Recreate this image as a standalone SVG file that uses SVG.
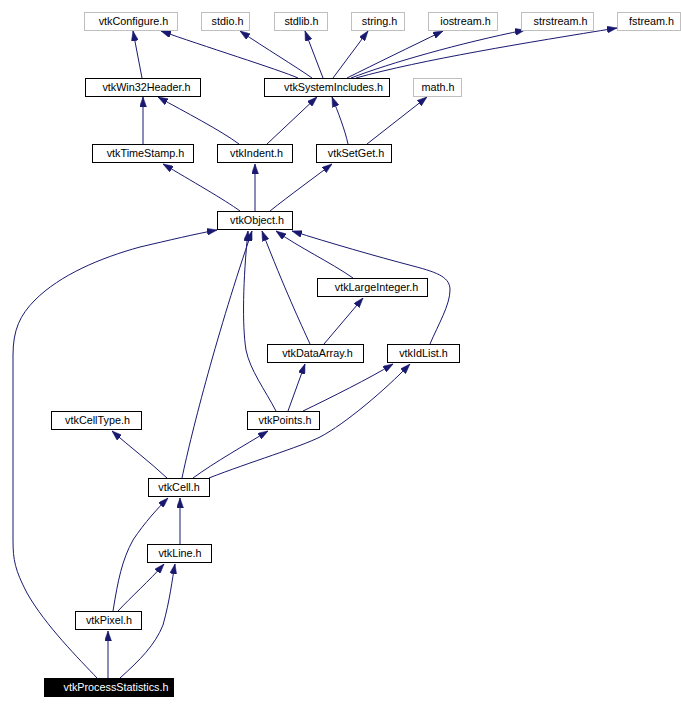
<svg xmlns="http://www.w3.org/2000/svg" width="681" height="709" viewBox="0 0 681 709">
<style>
.n rect{fill:#fff;stroke:#000;stroke-width:1}
.g rect{fill:#fff;stroke:#bfbfbf;stroke-width:1}
.n text,.g text{font-family:"Liberation Sans",Arial,sans-serif;font-size:10.8px;text-anchor:middle;fill:#000}
.h rect{fill:#000;stroke:#000}
.h text{font-family:"Liberation Sans",Arial,sans-serif;font-size:10.8px;text-anchor:middle;fill:#fff}
#edges path{fill:none;stroke:#191970;stroke-width:1;marker-end:url(#arr)}
</style>
<defs>
<marker id="arr" viewBox="0 0 10 7" refX="10" refY="3.5" markerWidth="10" markerHeight="7" markerUnits="userSpaceOnUse" orient="auto">
<path d="M0,0 L10,3.5 L0,7 z" fill="#191970" stroke="#191970" stroke-width="0.5"/>
</marker>
</defs>
<rect width="681" height="709" fill="#fff"/>
<g id="edges">
<path d="M142,78 L133,31"/>
<path d="M298,78 C280,70 200,45 161,31"/>
<path d="M312,78 C295,66 265,48 240,31"/>
<path d="M323,78 L305,31"/>
<path d="M333,78 L368,31"/>
<path d="M347,78 C375,64 410,47 443,31"/>
<path d="M351,78 C390,63 460,43 525,30"/>
<path d="M356,78 C420,60 530,42 617,28"/>
<path d="M143,144 L143,97"/>
<path d="M239,144 C220,130 185,112 158,97"/>
<path d="M267,144 L317,97"/>
<path d="M348,144 C345,130 338,112 332,97"/>
<path d="M367,144 L427,97"/>
<path d="M240,211 C225,200 190,180 163,164"/>
<path d="M255,211 L255,164"/>
<path d="M270,211 C290,195 315,177 332,164"/>
<path d="M353,278 C330,262 300,248 276,231"/>
<path d="M310,344 C300,322 285,290 262,231"/>
<path d="M324,344 L363,298"/>
<path d="M430,344 C438,325 450,305 450,290 C450,278 440,273 413,266 C375,256 330,243 292,231"/>
<path d="M288,411 L305,364"/>
<path d="M303,411 C330,398 370,378 393,364"/>
<path d="M276,411 C265,390 250,370 246,350 C242,325 243,280 248,231"/>
<path d="M182,478 C192,430 218,330 252,231"/>
<path d="M167,478 C150,462 130,447 112,431"/>
<path d="M193,478 C215,462 245,445 268,431"/>
<path d="M209,478 C250,462 300,447 320,437 C345,424 385,390 410,364"/>
<path d="M180,544 L180,498"/>
<path d="M113,611 C118,580 122,560 133,540 C145,522 158,508 168,498"/>
<path d="M118,611 C130,598 150,580 164,564"/>
<path d="M108,678 L108,631"/>
<path d="M120,678 C140,660 155,645 163,625 C170,600 172,580 175,564"/>
<path d="M97,678 C80,660 45,625 27,593 C15,570 13,560 13,540 L13,355 C13,330 20,315 35,300 C60,275 100,258 140,247 C170,240 195,234 217,230"/>
</g>
<g id="vtkConfigure" class="g"><rect x="84.5" y="12.5" width="93" height="18"/><text x="133.5" y="24.5">vtkConfigure.h</text></g>
<g id="stdio" class="g"><rect x="201.5" y="12.5" width="48" height="18"/><text x="227.5" y="24.5">stdio.h</text></g>
<g id="stdlib" class="g"><rect x="274.5" y="12.5" width="53" height="18"/><text x="301.5" y="24.5">stdlib.h</text></g>
<g id="string" class="g"><rect x="351.5" y="12.5" width="53" height="18"/><text x="379.5" y="24.5">string.h</text></g>
<g id="iostream" class="g"><rect x="428.5" y="12.5" width="69" height="18"/><text x="465.5" y="24.5">iostream.h</text></g>
<g id="strstream" class="g"><rect x="521.5" y="12.5" width="72" height="18"/><text x="560.5" y="24.5">strstream.h</text></g>
<g id="fstream" class="g"><rect x="617.5" y="12.5" width="63" height="18"/><text x="651.5" y="24.5">fstream.h</text></g>
<g id="vtkWin32Header" class="n"><rect x="85.5" y="78.5" width="115" height="18"/><text x="146.5" y="90.5">vtkWin32Header.h</text></g>
<g id="vtkSystemIncludes" class="n"><rect x="264.5" y="78.5" width="125" height="18"/><text x="333.5" y="90.5">vtkSystemIncludes.h</text></g>
<g id="math" class="g"><rect x="413.5" y="78.5" width="48" height="18"/><text x="438" y="90.5">math.h</text></g>
<g id="vtkTimeStamp" class="n"><rect x="92.5" y="144.5" width="101" height="18"/><text x="145.5" y="156.5">vtkTimeStamp.h</text></g>
<g id="vtkIndent" class="n"><rect x="217.5" y="144.5" width="75" height="18"/><text x="256.5" y="156.5">vtkIndent.h</text></g>
<g id="vtkSetGet" class="n"><rect x="316.5" y="144.5" width="75" height="18"/><text x="356" y="156.5">vtkSetGet.h</text></g>
<g id="vtkObject" class="n"><rect x="217.5" y="211.5" width="75" height="18"/><text x="257" y="223.5">vtkObject.h</text></g>
<g id="vtkLargeInteger" class="n"><rect x="317.5" y="278.5" width="110" height="18"/><text x="376.5" y="290.5">vtkLargeInteger.h</text></g>
<g id="vtkDataArray" class="n"><rect x="267.5" y="344.5" width="96" height="18"/><text x="317.5" y="356.5">vtkDataArray.h</text></g>
<g id="vtkIdList" class="n"><rect x="387.5" y="344.5" width="72" height="18"/><text x="423.5" y="356.5">vtkIdList.h</text></g>
<g id="vtkCellType" class="n"><rect x="51.5" y="411.5" width="90" height="18"/><text x="97.5" y="423.5">vtkCellType.h</text></g>
<g id="vtkPoints" class="n"><rect x="247.5" y="411.5" width="72" height="18"/><text x="285" y="423.5">vtkPoints.h</text></g>
<g id="vtkCell" class="n"><rect x="148.5" y="478.5" width="61" height="18"/><text x="179" y="490.5">vtkCell.h</text></g>
<g id="vtkLine" class="n"><rect x="147.5" y="544.5" width="64" height="18"/><text x="180" y="556.5">vtkLine.h</text></g>
<g id="vtkPixel" class="n"><rect x="75.5" y="611.5" width="66" height="18"/><text x="109" y="623.5">vtkPixel.h</text></g>
<g id="vtkProcessStatistics" class="h"><rect x="44.5" y="678.5" width="129" height="18"/><text x="116" y="690.5">vtkProcessStatistics.h</text></g>
</svg>
